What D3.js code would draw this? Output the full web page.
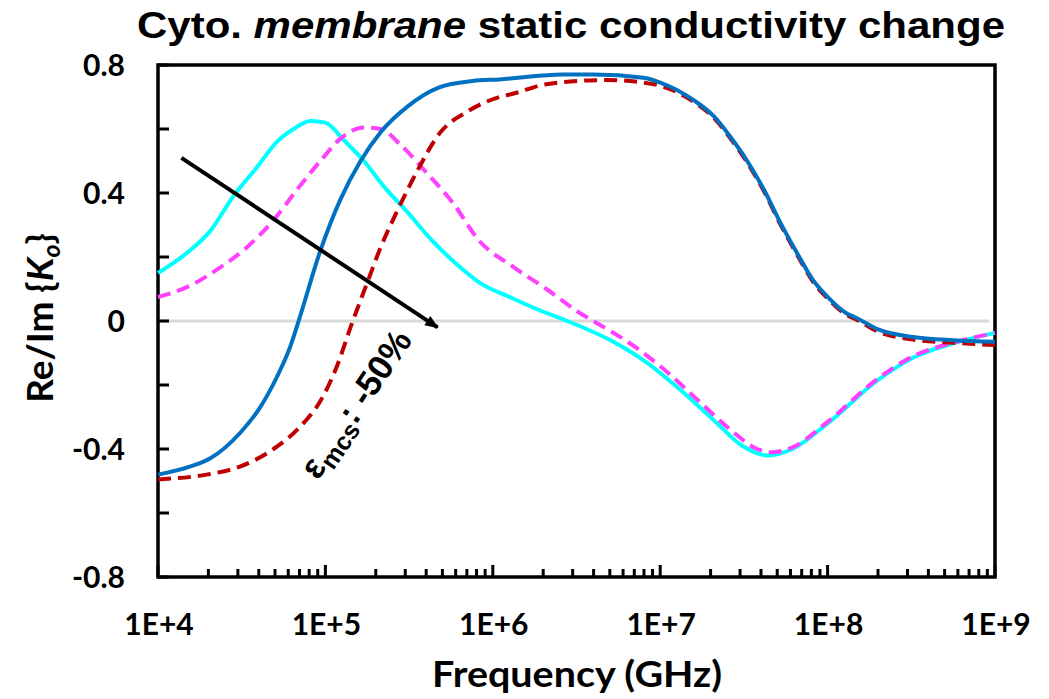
<!DOCTYPE html>
<html>
<head>
<meta charset="utf-8">
<script src="https://cdn.jsdelivr.net/npm/d3@7"></script>
<style>
  body { margin: 0; background: #fff; }
  svg { display: block; }
</style>
</head>
<body>
<div id="chart"></div>
<script>
// frequencies are given as log10 exponents, values are Re/Im {Ko}
const cyanExp = [4.0, 4.19, 4.31, 4.45, 4.59, 4.71, 4.81, 4.91, 5.0, 5.11, 5.23, 5.35, 5.49, 5.64, 5.8, 5.92, 6.1, 6.32, 6.42, 6.72, 6.92, 7.12, 7.32, 7.49, 7.64, 7.79, 8.0, 8.3, 8.51, 8.75, 9.0];
const cyanVal = [0.15, 0.22, 0.28, 0.39, 0.48, 0.56, 0.6, 0.625, 0.62, 0.565, 0.5, 0.42, 0.34, 0.25, 0.17, 0.12, 0.075, 0.025, 0.005, -0.065, -0.13, -0.215, -0.31, -0.39, -0.42, -0.4, -0.32, -0.185, -0.115, -0.07, -0.037];

const magentaExp = [4.0, 4.19, 4.35, 4.53, 4.69, 4.83, 4.97, 5.09, 5.23, 5.33, 5.45, 5.61, 5.76, 5.92, 6.12, 6.32, 6.52, 6.62, 6.82, 7.02, 7.22, 7.42, 7.58, 7.67, 7.79, 8.0, 8.3, 8.51, 8.75, 9.0];
const magentaVal = [0.075, 0.11, 0.16, 0.23, 0.315, 0.41, 0.5, 0.57, 0.605, 0.6, 0.55, 0.46, 0.37, 0.25, 0.17, 0.1, 0.025, -0.006, -0.07, -0.15, -0.245, -0.34, -0.4, -0.41, -0.395, -0.315, -0.18, -0.11, -0.068, -0.037];

const blueExp = [4.0, 4.19, 4.31, 4.49, 4.61, 4.71, 4.79, 4.84, 4.97, 5.09, 5.21, 5.33, 5.49, 5.68, 5.88, 6.04, 6.42, 6.6, 6.9, 7.0, 7.2, 7.32, 7.42, 7.52, 7.62, 7.72, 7.82, 7.91, 8.01, 8.11, 8.17, 8.31, 8.51, 8.75, 9.0];
const blueVal = [-0.48, -0.455, -0.43, -0.35, -0.27, -0.175, -0.08, 0.0, 0.22, 0.38, 0.5, 0.59, 0.67, 0.73, 0.75, 0.755, 0.77, 0.77, 0.76, 0.745, 0.69, 0.64, 0.575, 0.5, 0.41, 0.305, 0.21, 0.13, 0.07, 0.025, 0.01, -0.028, -0.05, -0.06, -0.065];

const redExp = [4.0, 4.29, 4.49, 4.69, 4.85, 4.97, 5.07, 5.15, 5.25, 5.33, 5.43, 5.55, 5.68, 5.85, 6.04, 6.12, 6.32, 6.68, 6.9, 7.0, 7.2, 7.32, 7.42, 7.52, 7.62, 7.72, 7.82, 7.91, 8.01, 8.11, 8.17, 8.31, 8.51, 8.75, 9.0];
const redVal = [-0.495, -0.48, -0.455, -0.4, -0.33, -0.25, -0.14, -0.02, 0.12, 0.23, 0.345, 0.47, 0.585, 0.655, 0.7, 0.71, 0.74, 0.753, 0.745, 0.735, 0.685, 0.635, 0.57, 0.495, 0.405, 0.3, 0.205, 0.125, 0.065, 0.02, 0.005, -0.035, -0.058, -0.068, -0.075];

const yTicks = [-0.8, -0.4, 0, 0.4, 0.8];
const yMinorTicks = [-0.8, -0.6, -0.4, -0.2, 0, 0.2, 0.4, 0.6, 0.8];
const xTickLabels = ["1E+4", "1E+5", "1E+6", "1E+7", "1E+8", "1E+9"];

// arrow annotation (log10 freq, value)
const arrowStart = [4.14, 0.51];
const arrowEnd = [5.67, -0.02];
const labelAt = [5.24, -0.28];

const margin = { top: 65, right: 54, bottom: 122, left: 158 };
const W = 1049, H = 699;
const width = W - margin.left - margin.right;
const height = H - margin.top - margin.bottom;

const x = d3.scaleLog().domain([1e4, 1e9]).range([0, width]);
const y = d3.scaleLinear().domain([-0.8, 0.8]).range([height, 0]);

const svg = d3.select("#chart").append("svg")
    .attr("width", W)
    .attr("height", H);

svg.append("defs").append("marker")
    .attr("id", "arrow")
    .attr("viewBox", "0 0 10 10")
    .attr("refX", 9)
    .attr("refY", 5)
    .attr("markerWidth", 4)
    .attr("markerHeight", 3.4)
    .attr("markerUnits", "strokeWidth")
    .attr("orient", "auto")
    .append("path")
    .attr("d", "M0,1 L10,5 L0,9 Z")
    .attr("fill", "#000");

const g = svg.append("g").attr("transform", `translate(${margin.left},${margin.top})`);

// zero line
g.append("line")
    .attr("x1", 0).attr("x2", width - 6)
    .attr("y1", y(0)).attr("y2", y(0))
    .attr("stroke", "#d9d9d9")
    .attr("stroke-width", 3);

// frame
g.append("rect")
    .attr("x", 0).attr("y", 0)
    .attr("width", width).attr("height", height)
    .attr("fill", "none")
    .attr("stroke", "#000")
    .attr("stroke-width", 3.5);

// y ticks (inward)
g.selectAll(".yTick").data(yMinorTicks).enter().append("line")
    .attr("class", "yTick")
    .attr("x1", 0).attr("x2", 11)
    .attr("y1", d => y(d)).attr("y2", d => y(d))
    .attr("stroke", "#000").attr("stroke-width", 3);

g.selectAll(".yLabel").data(yTicks).enter().append("text")
    .attr("class", "yLabel")
    .attr("x", -33)
    .attr("y", d => y(d))
    .attr("dy", "0.36em")
    .attr("text-anchor", "end")
    .attr("font-family", "Lato, sans-serif")
    .attr("font-weight", "bold")
    .attr("font-size", "30px")
    .text(d => d === 0 ? "0" : d.toFixed(1));

// x ticks (inward, log minor ticks)
const xMinor = [];
for (let e = 4; e < 9; e++) for (let m = 2; m <= 9; m++) xMinor.push(m * Math.pow(10, e));
const xMajor = xTickLabels.map(s => +s);

g.selectAll(".xMinor").data(xMinor).enter().append("line")
    .attr("class", "xMinor")
    .attr("x1", d => x(d)).attr("x2", d => x(d))
    .attr("y1", height).attr("y2", height - 8)
    .attr("stroke", "#000").attr("stroke-width", 3);

g.selectAll(".xMajor").data(xMajor).enter().append("line")
    .attr("class", "xMajor")
    .attr("x1", d => x(d)).attr("x2", d => x(d))
    .attr("y1", height).attr("y2", height - 12)
    .attr("stroke", "#000").attr("stroke-width", 3);

g.selectAll(".xLabel").data(xTickLabels).enter().append("text")
    .attr("class", "xLabel")
    .attr("x", d => x(+d) + 1)
    .attr("y", 635 - margin.top)
    .attr("text-anchor", "middle")
    .attr("font-family", "Lato, sans-serif")
    .attr("font-weight", "bold")
    .attr("font-size", "30px")
    .text(d => d);

// series
const line = d3.line()
    .x(d => x(Math.pow(10, d[0])))
    .y(d => y(d[1]))
    .curve(d3.curveMonotoneX);

const series = [
    { exp: cyanExp, val: cyanVal, color: "#00ffff", dash: null },
    { exp: magentaExp, val: magentaVal, color: "#ff40ff", dash: "13,7" },
    { exp: redExp, val: redVal, color: "#c00000", dash: "13,7" },
    { exp: blueExp, val: blueVal, color: "#0070c0", dash: null }
];

series.forEach(s => {
    g.append("path")
        .datum(s.exp.map((e, i) => [e, s.val[i]]))
        .attr("fill", "none")
        .attr("stroke", s.color)
        .attr("stroke-width", 4)
        .attr("stroke-dasharray", s.dash)
        .attr("d", line);
});

// annotation arrow
g.append("line")
    .attr("x1", x(Math.pow(10, arrowStart[0]))).attr("y1", y(arrowStart[1]))
    .attr("x2", x(Math.pow(10, arrowEnd[0]))).attr("y2", y(arrowEnd[1]))
    .attr("stroke", "#000")
    .attr("stroke-width", 4)
    .attr("marker-end", "url(#arrow)");

const lx = x(Math.pow(10, labelAt[0])), ly = y(labelAt[1]);
const ann = g.append("text")
    .attr("transform", `translate(${lx},${ly}) rotate(-56)`)
    .attr("text-anchor", "middle")
    .attr("font-family", "'Liberation Sans', Arial, sans-serif")
    .attr("font-weight", "bold")
    .attr("font-size", "35px");
ann.append("tspan").text("ε");
ann.append("tspan").attr("font-size", "25px").attr("dy", 7).text("mcs");
ann.append("tspan").attr("dy", -7).text(": -50%");

// title
svg.append("text")
    .attr("x", 571)
    .attr("y", 38)
    .attr("text-anchor", "middle")
    .attr("font-family", "'Liberation Sans', Arial, sans-serif")
    .attr("font-weight", "bold")
    .attr("font-size", "37px")
    .attr("textLength", 868)
    .attr("lengthAdjust", "spacingAndGlyphs")
    .call(t => {
        t.append("tspan").text("Cyto. ");
        t.append("tspan").attr("font-style", "italic").text("membrane");
        t.append("tspan").text(" static conductivity change");
    });

// axis titles
svg.append("text")
    .attr("x", 577)
    .attr("y", 687)
    .attr("text-anchor", "middle")
    .attr("font-family", "Lato, sans-serif")
    .attr("font-weight", "bold")
    .attr("font-size", "37px")
    .attr("textLength", 290)
    .attr("lengthAdjust", "spacingAndGlyphs")
    .text("Frequency (GHz)");

svg.append("text")
    .attr("transform", `translate(53,318) rotate(-90)`)
    .attr("text-anchor", "middle")
    .attr("font-family", "Lato, sans-serif")
    .attr("font-weight", "bold")
    .attr("font-size", "37px")
    .call(t => {
        t.append("tspan").text("Re/Im {");
        t.append("tspan").attr("font-style", "italic").text("K");
        t.append("tspan").attr("font-style", "italic").attr("font-size", "25px").attr("dy", 7).text("o");
        t.append("tspan").attr("dy", -7).text("}");
    });
</script>
</body>
</html>
